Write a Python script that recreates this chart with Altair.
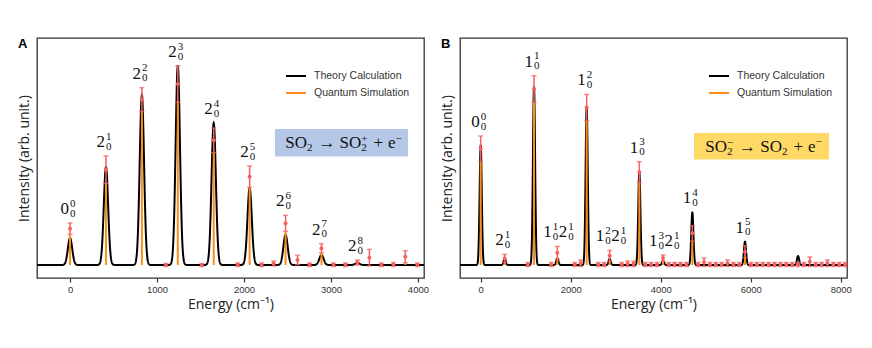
import altair as alt
import numpy as np
import pandas as pd

# ---------------- Panel A : SO2 -> SO2+ + e- ----------------
A_peak_E = [0, 413, 826, 1239, 1652, 2065, 2478, 2891, 3304]
A_theory = [27, 98, 170, 199, 142, 77, 30, 10, 2]
A_sim_lo = [30.7, 81.7, 153.7, 163.0, 112.3, 77.7, 33.7, 12.3, 0.0]
A_sim_hi = [42.0, 109.0, 177.3, 199.0, 137.0, 99.0, 49.7, 21.3, 5.0]
A_labels = ["0^0_0", "2^1_0", "2^2_0", "2^3_0", "2^4_0", "2^5_0", "2^6_0", "2^7_0", "2^8_0"]
A_other_E = [1102, 1515, 1928, 2203, 2341, 2616, 2754, 3029, 3167, 3442, 3580, 3718, 3855, 3993]
A_other_lo = [-1.5, -1.5, -1.5, -1.5, -1.0, 0.3, -1.5, -1.5, -1.5, -1.0, -1.5, -1.5, 2.3, -1.5]
A_other_hi = [1.5, 1.5, 2.0, 2.0, 4.0, 9.7, 2.0, 2.0, 2.0, 15.7, 2.0, 2.5, 14.3, 2.0]
A_extra_E = []
A_extra_h = []

# ---------------- Panel B : SO2- -> SO2 + e- ----------------
B_peak_E = [0, 533, 1185, 1703, 2355, 2866, 3525, 4052, 4703, 5873]
B_theory = [120, 6, 178, 6.6, 158, 6, 93, 4, 52.6, 23.3]
B_sim_lo = [103.3, 2.6, 162.6, 6.0, 144.3, 4.0, 82.6, 4.0, 24.0, 7.3]
B_sim_hi = [129.0, 10.6, 189.3, 18.6, 170.6, 14.6, 103.3, 10.0, 39.3, 19.3]
B_labels = ["0^0_0", "2^1_0", "1^1_0", "1^1_0 2^1_0", "1^2_0", "1^2_0 2^1_0",
            "1^3_0", "1^3_0 2^1_0", "1^4_0", "1^5_0"]
B_other_E = [1045, 1567, 2090, 2220, 2612, 2743, 3134, 3265, 3396, 3657, 3787, 3918,
             4179, 4310, 4440, 4571, 4832, 4963, 5093, 5224, 5355, 5485, 5616, 5746,
             6008, 6138, 6269, 6399, 6530, 6661, 6791, 6922, 7052, 7183, 7314, 7444,
             7575, 7705, 7836, 7967, 8097]
B_other_hi_special = {2220: 5, 3265: 4, 3396: 4, 4963: 7, 5485: 5, 7314: 8, 7705: 5}
B_other_lo = [-1.5 for _ in B_other_E]
B_other_hi = [B_other_hi_special.get(e, 2.5) for e in B_other_E]
B_extra_E = [7052]
B_extra_h = [9]

SERIES = ["Theory Calculation", "Quantum Simulation"]
COLORS = ["#000000", "#ff8c1a"]
RED = "#f4605f"
SERIF = "Liberation Serif"
SANS = "Liberation Sans"
TITLE_FONT = "Open Sans"
W, H = 387, 240
YDOM = [-13, 227]

WTAB = {"S": 0.556, "O": 0.722, "e": 0.444, "+": 0.564, "→": 0.95, "−": 0.564}


def seg_w(t, fs):
    return sum(WTAB.get(c, 0.5) for c in t) * fs


def box_text_layers(segs, cx, base_y, F=17, f=11):
    def width(seg):
        t, kind = seg
        if kind == "gap":
            return t
        if kind == "n":
            return seg_w(t, F)
        if kind == "stack":
            return max(seg_w(t[0], f), seg_w(t[1], f))
        return seg_w(t, f)

    total = sum(width(s) for s in segs)
    x = cx - total / 2
    dummy = pd.DataFrame({"k": [0]})
    layers = []

    def txt(s, px, py, fs):
        return alt.Chart(dummy).mark_text(
            text=s, align="left", baseline="alphabetic", font=SERIF, fontSize=fs, color="#111"
        ).encode(x=alt.value(px), y=alt.value(py))

    for seg in segs:
        t, kind = seg
        if kind == "n":
            layers.append(txt(t, x, base_y, F))
        elif kind == "sub":
            layers.append(txt(t, x, base_y + 2.8, f))
        elif kind == "sup":
            layers.append(txt(t, x, base_y - 6.5, f))
        elif kind == "stack":
            layers.append(txt(t[0], x, base_y - 6.0, f))
            layers.append(txt(t[1], x, base_y + 2.8, f))
        x += width(seg)
    return layers


def build_panel(letter, peak_E, theory, lo, hi, labels, other_E, other_lo, other_hi,
                extra_E, extra_h, dom, ticks, sigma, box_color, box_rect, box_segs):
    upp = (dom[1] - dom[0]) / W
    xs = np.arange(dom[0], dom[1] + 2.0, 2.0)
    ys = np.zeros_like(xs, dtype=float)
    for e, h in zip(list(peak_E) + list(extra_E), list(theory) + list(extra_h)):
        ys = ys + h * np.exp(-0.5 * ((xs - e) / sigma) ** 2)
    curve = pd.DataFrame({"E": xs, "I": ys, "series": SERIES[0]})

    sim = pd.DataFrame({"E": list(peak_E) + list(other_E),
                        "lo": list(lo) + list(other_lo),
                        "hi": list(hi) + list(other_hi)})
    sim["mid"] = (sim["lo"] + sim["hi"]) / 2
    sim["zero"] = 0.0
    sim["stick"] = sim["lo"].clip(lower=0)
    sim["series"] = SERIES[1]

    rows = []
    for e, t, l_hi, lab in zip(peak_E, theory, hi, labels):
        groups = lab.split(" ")
        offs = [0.0] if len(groups) == 1 else [-4.5, 11.0]
        top = max(t, l_hi)
        for g, off in zip(groups, offs):
            b, rest = g.split("^")
            s, u = rest.split("_")
            rows.append({"xb": e + (off - 1) * upp, "xs": e + off * upp, "top": top,
                         "base": b, "sup": s, "sub": u})
    lab_df = pd.DataFrame(rows)

    xscale = alt.Scale(domain=dom, nice=False, zero=False)
    yscale = alt.Scale(domain=YDOM, nice=False, zero=False)
    xaxis = alt.Axis(values=ticks, format="d", title="Energy (cm⁻¹)", grid=False, domain=False,
                     ticks=True, tickSize=4, tickColor="#333", tickWidth=1.2,
                     labelFont=SANS, labelFontSize=9.5, labelColor="#333", labelPadding=2,
                     titleFont=TITLE_FONT, titleFontSize=14, titleFontWeight="normal",
                     titleColor="#222", titlePadding=4)
    yaxis = alt.Axis(title="Intensity (arb. unit.)", labels=False, ticks=False, domain=False,
                     grid=False, titleFont=TITLE_FONT, titleFontSize=14,
                     titleFontWeight="normal", titleColor="#222", titlePadding=6)
    legend = alt.Legend(title=None, orient="none", legendX=248, legendY=27,
                        symbolType="stroke", symbolSize=400, symbolStrokeWidth=2,
                        labelFont=SANS, labelFontSize=10.5, labelColor="#333",
                        labelOffset=7, rowPadding=-1, padding=0)
    cscale = alt.Scale(domain=SERIES, range=COLORS)

    def X(field):
        return alt.X(f"{field}:Q", scale=xscale, axis=xaxis)

    def Y(field):
        return alt.Y(f"{field}:Q", scale=yscale, axis=yaxis)

    line = alt.Chart(curve).mark_line(strokeWidth=2, clip=True).encode(
        x=X("E"), y=Y("I"), color=alt.Color("series:N", scale=cscale, legend=legend))
    sticks = alt.Chart(sim).mark_rule(strokeWidth=2).encode(
        x=X("E"), y=Y("zero"), y2="stick",
        color=alt.Color("series:N", scale=cscale, legend=legend))
    ebar = alt.Chart(sim).mark_rule(strokeWidth=1.5, color=RED).encode(
        x=X("E"), y=Y("lo"), y2="hi")
    cap_lo = alt.Chart(sim).mark_tick(orient="horizontal", size=5, thickness=1.5, color=RED).encode(
        x=X("E"), y=Y("lo"))
    cap_hi = alt.Chart(sim).mark_tick(orient="horizontal", size=5, thickness=1.5, color=RED).encode(
        x=X("E"), y=Y("hi"))
    dots = alt.Chart(sim).mark_point(filled=True, size=16, color=RED, opacity=1).encode(
        x=X("E"), y=Y("mid"))

    base_t = alt.Chart(lab_df).mark_text(align="right", baseline="middle", dy=-14,
                                         font=SERIF, fontSize=17, color="#111").encode(
        x=X("xb"), y=Y("top"), text="base:N")
    sup_t = alt.Chart(lab_df).mark_text(align="left", baseline="middle", dy=-19.5,
                                        font=SERIF, fontSize=11, color="#111").encode(
        x=X("xs"), y=Y("top"), text="sup:N")
    sub_t = alt.Chart(lab_df).mark_text(align="left", baseline="middle", dy=-9.5,
                                        font=SERIF, fontSize=11, color="#111").encode(
        x=X("xs"), y=Y("top"), text="sub:N")

    dummy = pd.DataFrame({"k": [0]})
    x0, x1, y0, y1 = box_rect
    box = alt.Chart(dummy).mark_rect(color=box_color).encode(
        x=alt.value(x0), x2=alt.value(x1), y=alt.value(y0), y2=alt.value(y1))
    btxt = box_text_layers(box_segs, (x0 + x1) / 2 + 2, (y0 + y1) / 2 + 5.7)
    letter_t = alt.Chart(dummy).mark_text(text=letter, align="left", baseline="middle",
                                          font=SANS, fontSize=13, fontWeight="bold",
                                          color="#000").encode(
        x=alt.value(-19), y=alt.value(5.5))

    return alt.layer(line, sticks, ebar, cap_lo, cap_hi, dots, base_t, sup_t, sub_t,
                     box, *btxt, letter_t).properties(width=W, height=H)


A_box_segs = [("SO", "n"), ("2", "sub"), (6, "gap"), ("→", "n"), (5, "gap"),
              ("SO", "n"), (("+", "2"), "stack"), (6, "gap"), ("+", "n"), (5, "gap"),
              ("e", "n"), ("−", "sup")]
B_box_segs = [("SO", "n"), (("−", "2"), "stack"), (6, "gap"), ("→", "n"), (5, "gap"),
              ("SO", "n"), ("2", "sub"), (6, "gap"), ("+", "n"), (5, "gap"),
              ("e", "n"), ("−", "sup")]

pA = build_panel("A", A_peak_E, A_theory, A_sim_lo, A_sim_hi, A_labels,
                 A_other_E, A_other_lo, A_other_hi, A_extra_E, A_extra_h,
                 [-380, 4070], [0, 1000, 2000, 3000, 4000], 25, "#b4c7e7",
                 (238, 371, 91, 118.5), A_box_segs)
pB = build_panel("B", B_peak_E, B_theory, B_sim_lo, B_sim_hi, B_labels,
                 B_other_E, B_other_lo, B_other_hi, B_extra_E, B_extra_h,
                 [-460, 8140], [0, 2000, 4000, 6000, 8000], 24, "#ffd966",
                 (234, 369, 95, 121.5), B_box_segs)

chart = alt.hconcat(pA, pB, spacing=9).resolve_scale(
    color="independent", x="independent", y="independent"
).resolve_legend(color="independent").properties(
    padding={"left": 8, "top": 28, "right": 0, "bottom": 0}
).configure_view(stroke="#333", strokeWidth=1.3).configure_axis(grid=False)

chart.save("out.html", embed_options={"renderer": "svg", "actions": False})
